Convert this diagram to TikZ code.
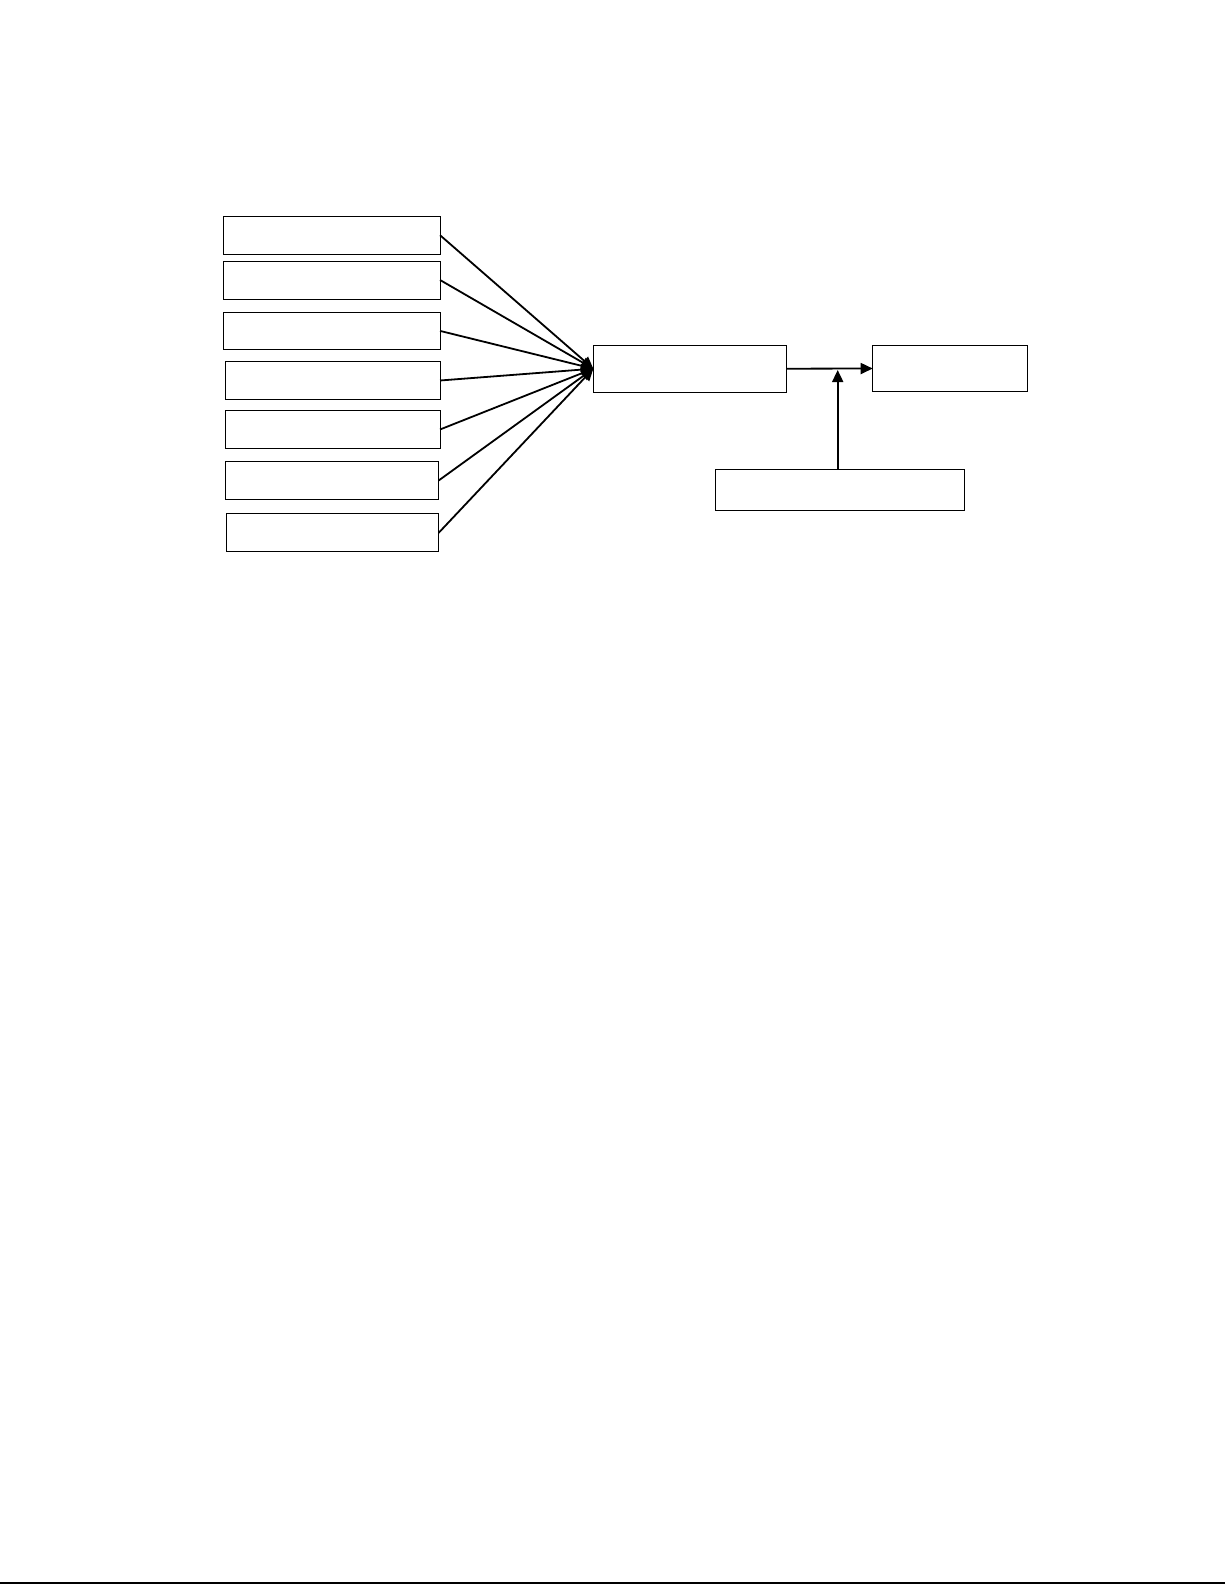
\documentclass[tikz,border=0pt]{standalone}
\usetikzlibrary{arrows.meta}
\begin{document}
\begin{tikzpicture}[x=1pt,y=-1pt,
  box/.style={draw=black, line width=1pt, rectangle, inner sep=0pt, outer sep=0pt, fill=white},
  conn/.style={draw=black, line width=1.8pt, -{Triangle[length=12pt,width=11pt]}}]
\useasboundingbox (0,0) rectangle (1225,1585);
\fill[white] (0,0) rectangle (1225,1585);
% input boxes
\node[box, minimum width=216.7pt, minimum height=38.3pt] (b1) at (331.7,235.2) {};
\node[box, minimum width=216.7pt, minimum height=38pt] (b2) at (331.7,280) {};
\node[box, minimum width=216.7pt, minimum height=37.7pt] (b3) at (331.7,330.9) {};
\node[box, minimum width=214.7pt, minimum height=37.7pt] (b4) at (332.7,380.5) {};
\node[box, minimum width=215pt, minimum height=37.6pt] (b5) at (332.5,429.5) {};
\node[box, minimum width=212.7pt, minimum height=37.6pt] (b6) at (332.3,480.5) {};
\node[box, minimum width=212pt, minimum height=37.7pt] (b7) at (332.7,532.8) {};
% central, output and moderator boxes
\node[box, minimum width=193.4pt, minimum height=46.7pt] (mid) at (690,368.7) {};
\node[box, minimum width=154.6pt, minimum height=46.6pt] (out) at (950,368.5) {};
\node[box, minimum width=248.7pt, minimum height=40.7pt] (mod) at (840.3,489.7) {};
% connectors
\foreach \b in {b1,b2,b3,b4,b5,b6,b7}
  \draw[conn] (\b.east) -- (mid.west);
\draw[conn] (mid.east) -- (out.west);
\coordinate (j) at (837.7,370);
\draw[conn] (j |- mod.north) -- (j);
% bottom rule
\coordinate (l0) at (0,1583);
\coordinate (l1) at (1225,1583);
\draw[line width=2pt] (l0) -- (l1);
\end{tikzpicture}
\end{document}
